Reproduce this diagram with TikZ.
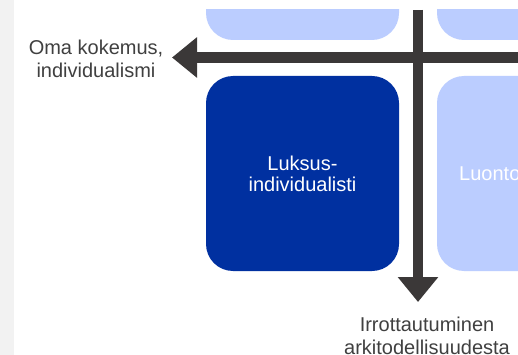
\documentclass[tikz,border=0pt]{standalone}
\usepackage{fontspec}
\setmainfont{Liberation Sans}
\usetikzlibrary{arrows.meta}
\definecolor{darkblue}{HTML}{0030A0}
\definecolor{lightblue}{HTML}{BBCDFF}
\definecolor{axisgray}{HTML}{3B3838}
\definecolor{labelgray}{HTML}{404040}
\definecolor{stripgray}{HTML}{F2F2F2}
\tikzset{
  quad/.style={rounded corners=27pt, minimum width=193pt, minimum height=195pt,
    inner sep=0pt, text=white, align=center, font=\fontsize{20}{21}\selectfont},
  axis/.style={draw=axisgray, line width=10.5pt,
    -{Triangle[length=25pt,width=39pt]}},
  axislabel/.style={text=labelgray, align=center, font=\fontsize{20}{23}\selectfont, inner sep=0pt}
}
\begin{document}
\begin{tikzpicture}[x=1pt,y=-1pt]
\useasboundingbox (0,0) rectangle (518,355);
\fill[white] (0,0) rectangle (518,355);
\fill[stripgray] (0,0) rectangle (14,355);
\begin{scope}
  \clip (14,10) rectangle (518,355);
  \node[quad, fill=lightblue] (tl) at (302.5,-57.5) {};
  \node[quad, fill=lightblue] (tr) at (533.5,-57.5) {};
  \node[quad, fill=darkblue] (lux) at (302.5,173.5) {Luksus-\\individualisti};
  \node[quad, fill=lightblue] (nat) at (533.5,173.5) {};
  \node[anchor=west, text=white, inner sep=0pt, font=\fontsize{20}{21}\selectfont] (natlabel) at (459,173.5) {Luonto};
  \coordinate (hstart) at (530,57.5);
  \coordinate (hend) at (172,57.5);
  \coordinate (vstart) at (418,10);
  \coordinate (vend) at (418,302);
  \draw[axis] (vstart) -- (vend);
  \draw[axis] (hstart) -- (hend);
\end{scope}
\node[axislabel] (left) at (96,58.5) {Oma kokemus,\\individualismi};
\node[axislabel] (bottom) at (427,336) {Irrottautuminen\\arkitodellisuudesta};
\end{tikzpicture}
\end{document}
